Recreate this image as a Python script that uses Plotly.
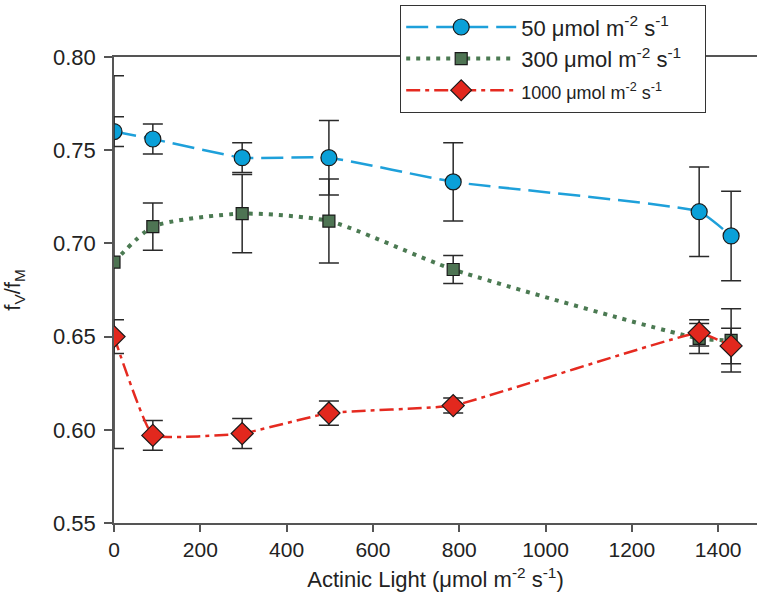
import plotly.graph_objects as go

light_50 = [0, 90, 297, 498, 786, 1356, 1430]
fvfm_50 = [0.760, 0.756, 0.746, 0.746, 0.733, 0.717, 0.704]
err_50 = [0.008, 0.008, 0.008, 0.020, 0.021, 0.024, 0.024]

light_300 = [0, 90, 297, 498, 786, 1356, 1430]
fvfm_300 = [0.690, 0.709, 0.716, 0.712, 0.686, 0.649, 0.648]
err_300 = [0.100, 0.0127, 0.021, 0.0225, 0.0075, 0.008, 0.017]

light_1000 = [0, 90, 297, 498, 786, 1356, 1430]
fvfm_1000 = [0.650, 0.597, 0.598, 0.609, 0.613, 0.652, 0.645]
err_1000 = [0.009, 0.008, 0.008, 0.0065, 0.004, 0.007, 0.0095]

unit = "\u03bcmol m<sup>-2</sup> s<sup>-1</sup>"
pad = "\u00a0\u00a0\u00a0"
names = ["50 " + unit + pad, "300 " + unit + pad,
         '<span style="font-size:18px">1000 \u03bcmol m<sup>-2</sup> s<sup>-1</sup></span>']

FONT = "Liberation Sans, Arial, sans-serif"
EB = dict(type="data", visible=True, color="#2a2a2a", thickness=1.5, width=10)

fig = go.Figure()
fig.add_trace(go.Scatter(
    x=light_50, y=fvfm_50, name=names[0], mode="lines+markers",
    line=dict(color="#1EA0DA", width=2.5, dash="22px,8px", shape="spline", smoothing=0.4),
    marker=dict(symbol="circle", size=16, color="#0AA0D8", line=dict(color="#1a1a1a", width=1.2)),
    error_y=dict(array=err_50, **EB)))
fig.add_trace(go.Scatter(
    x=light_300, y=fvfm_300, name=names[1], mode="lines+markers",
    line=dict(color="#4B7A52", width=4, dash="4px,6px", shape="spline", smoothing=0.6),
    marker=dict(symbol="square", size=12, color="#4E7453", line=dict(color="#1a1a1a", width=1.2)),
    error_y=dict(array=err_300, **EB)))
fig.add_trace(go.Scatter(
    x=light_1000, y=fvfm_1000, name=names[2], mode="lines+markers",
    line=dict(color="#E52A20", width=2.5, dash="14px,5px,4px,5px", shape="spline", smoothing=0.3),
    marker=dict(symbol="diamond", size=17, color="#E2281E", line=dict(color="#1a1a1a", width=1.2)),
    error_y=dict(array=err_1000, **EB)))

axcol = "#555555"
fig.update_layout(
    width=757, height=603,
    margin=dict(l=114, r=0, t=57, b=80),
    paper_bgcolor="white", plot_bgcolor="white",
    font=dict(family=FONT, size=21, color="#222222"),
    showlegend=True,
    legend=dict(x=(400 - 114) / 643, y=(523 - 5) / 466, xanchor="left", yanchor="top",
                bgcolor="white", bordercolor="#333333", borderwidth=1.2,
                font=dict(size=22, family=FONT, color="#222222"),
                itemwidth=110, tracegroupgap=0),
    xaxis=dict(range=[0, 1490], tickvals=[0, 200, 400, 600, 800, 1000, 1200, 1400],
               showline=True, linecolor=axcol, linewidth=1.5, mirror=True,
               ticks="outside", ticklen=7, tickcolor=axcol, tickwidth=1.5,
               showgrid=False, zeroline=False,
               tickfont=dict(size=21),
               title=dict(text="Actinic Light (\u03bcmol m<sup>-2</sup> s<sup>-1</sup>)",
                          font=dict(size=22), standoff=12)),
    yaxis=dict(range=[0.55, 0.80], tickvals=[0.55, 0.60, 0.65, 0.70, 0.75, 0.80],
               tickformat=".2f",
               showline=True, linecolor=axcol, linewidth=1.5, mirror=False,
               ticks="outside", ticklen=8, tickcolor=axcol, tickwidth=1.5,
               ticklabelstandoff=4,
               showgrid=False, zeroline=False,
               tickfont=dict(size=22),
               title=dict(text="f<sub>V</sub>/f<sub>M</sub>", font=dict(size=22), standoff=30)),
)

fig.write_html("out.html")
